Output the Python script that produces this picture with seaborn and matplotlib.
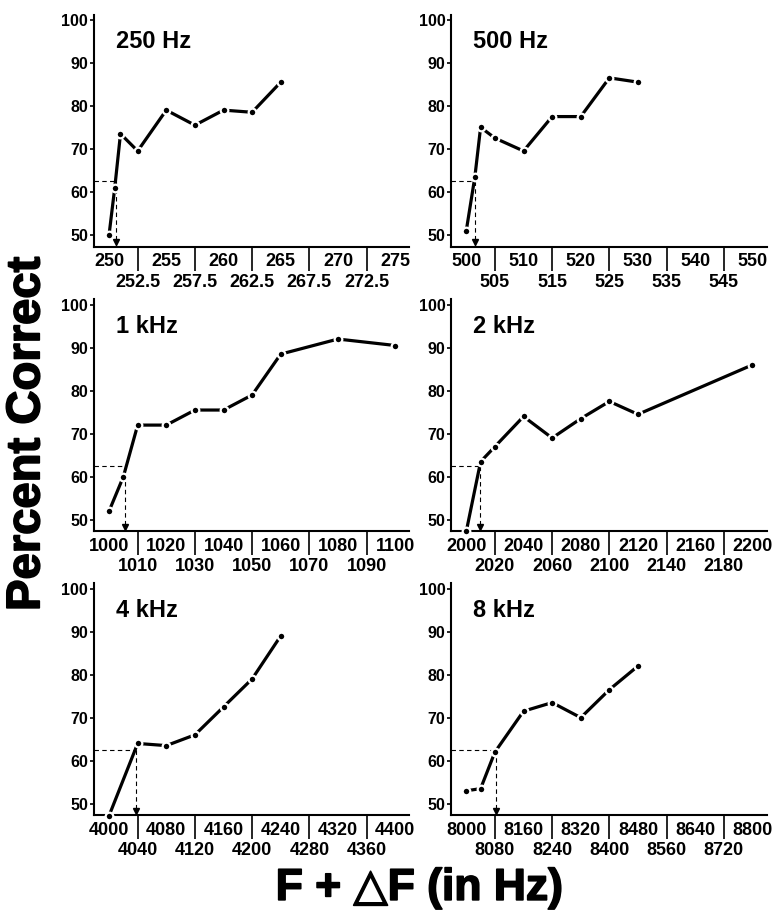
import pandas as pd
import matplotlib.pyplot as plt
import matplotlib.patheffects as pe
import seaborn as sns

sns.set_style("white")
plt.rcParams['font.family'] = ['Liberation Sans', 'DejaVu Sans']
plt.rcParams['font.weight'] = 'bold'
plt.rcParams['text.color'] = 'black'
plt.rcParams['xtick.color'] = 'black'
plt.rcParams['ytick.color'] = 'black'
plt.rcParams['axes.labelcolor'] = 'black'

# panel titles
titles = ["250 Hz", "500 Hz", "1 kHz", "2 kHz", "4 kHz", "8 kHz"]

# F + dF (Hz) and percent correct
f250 = [250, 250.5, 251, 252.5, 255, 257.5, 260, 262.5, 265]
p250 = [50, 61, 73.5, 69.5, 79, 75.5, 79, 78.5, 85.5]

f500 = [500, 501.5, 502.5, 505, 510, 515, 520, 525, 530]
p500 = [51, 63.5, 75, 72.5, 69.5, 77.5, 77.5, 86.5, 85.5]

f1k = [1000, 1005, 1010, 1020, 1030, 1040, 1050, 1060, 1080, 1100]
p1k = [52, 60, 72, 72, 75.5, 75.5, 79, 88.5, 92, 90.5]

f2k = [2000, 2010, 2020, 2040, 2060, 2080, 2100, 2120, 2200]
p2k = [47.3, 63.5, 67, 74, 69, 73.5, 77.5, 74.5, 86]

f4k = [4000, 4040, 4080, 4120, 4160, 4200, 4240]
p4k = [47.2, 64, 63.5, 66, 72.5, 79, 89]

f8k = [8000, 8040, 8080, 8160, 8240, 8320, 8400, 8480]
p8k = [53, 53.5, 62, 71.5, 73.5, 70, 76.5, 82]

# threshold (62.5 % correct) and the frequency it was read at
thr_level = 62.5
thr_freq = [250.6, 501.6, 1005.5, 2009.5, 4037.5, 8083]

# x tick labels: upper row and lower row
upper_ticks = [
    ["250", "255", "260", "265", "270", "275"],
    ["500", "510", "520", "530", "540", "550"],
    ["1000", "1020", "1040", "1060", "1080", "1100"],
    ["2000", "2040", "2080", "2120", "2160", "2200"],
    ["4000", "4080", "4160", "4240", "4320", "4400"],
    ["8000", "8160", "8320", "8480", "8640", "8800"],
]
lower_ticks = [
    ["252.5", "257.5", "262.5", "267.5", "272.5"],
    ["505", "515", "525", "535", "545"],
    ["1010", "1030", "1050", "1070", "1090"],
    ["2020", "2060", "2100", "2140", "2180"],
    ["4040", "4120", "4200", "4280", "4360"],
    ["8080", "8240", "8400", "8560", "8720"],
]
y_ticks = [50, 60, 70, 80, 90, 100]

freqs = [f250, f500, f1k, f2k, f4k, f8k]
pcts = [p250, p500, p1k, p2k, p4k, p8k]

fig = plt.figure(figsize=(7.8, 9.13), dpi=100)

lefts = [0.120, 0.578]
bottoms = [0.730, 0.418, 0.107]
ylo, yhi = 47.3, 101.2

for i in range(6):
    ax = fig.add_axes([lefts[i % 2], bottoms[i // 2], 0.405, 0.254])
    df = pd.DataFrame({"freq": freqs[i], "pct": pcts[i]})

    up = [float(t) for t in upper_ticks[i]]
    lo = [float(t) for t in lower_ticks[i]]
    span = up[-1] - up[0]
    x0 = up[0] - 0.054 * span
    x1 = up[-1] + 0.05 * span

    sns.lineplot(data=df, x="freq", y="pct", ax=ax, color="black",
                 linewidth=2.3, marker="o", markersize=5.5,
                 markerfacecolor="black", markeredgecolor="white",
                 markeredgewidth=1.6, clip_on=False, zorder=3)

    # dashed threshold lines with arrow down to the axis
    t = thr_freq[i]
    ax.plot([x0, t], [thr_level, thr_level], color="black", lw=0.8,
            ls=(0, (4, 3)), zorder=2)
    ax.plot([t, t], [thr_level, ylo], color="black", lw=0.8,
            ls=(0, (4, 3)), zorder=2)
    ax.plot([t], [ylo + 1.0], marker="v", color="black", markersize=4,
            clip_on=False, zorder=2)

    ax.set_xlim(x0, x1)
    ax.set_ylim(ylo, yhi)

    ax.set_xticks(up, upper_ticks[i])
    ax.set_xticks(lo, lower_ticks[i], minor=True)
    ax.set_yticks(y_ticks, [str(v) for v in y_ticks])
    ax.tick_params(axis="x", which="major", length=0, pad=5,
                   labelsize=13)
    ax.tick_params(axis="x", which="minor", bottom=True, length=17,
                   width=1.2, direction="out", pad=2.5, labelsize=13,
                   color="black")
    ax.tick_params(axis="y", length=3, width=1.2, direction="out",
                   pad=1, labelsize=11.5, color="black", left=True)
    for lab in ax.get_xticklabels(minor=True) + ax.get_xticklabels() + ax.get_yticklabels():
        lab.set_fontweight("bold")

    for s in ["top", "right"]:
        ax.spines[s].set_visible(False)
    for s in ["left", "bottom"]:
        ax.spines[s].set_linewidth(1.5)
        ax.spines[s].set_color("black")

    ax.set_xlabel("")
    ax.set_ylabel("")
    ax.text(0.07, 0.885, titles[i], transform=ax.transAxes,
            fontsize=17, fontweight="bold", ha="left", va="center")

heavy = [pe.withStroke(linewidth=1.2, foreground="black")]
fig.text(0.035, 0.525, "Percent Correct", rotation=90, fontsize=34,
         fontweight="bold", ha="center", va="center", path_effects=heavy)
fig.text(0.538, 0.027, "F + \u25b3F (in Hz)", fontsize=32,
         fontweight="bold", ha="center", va="center", path_effects=heavy)

fig.savefig("out.png", dpi=100)
